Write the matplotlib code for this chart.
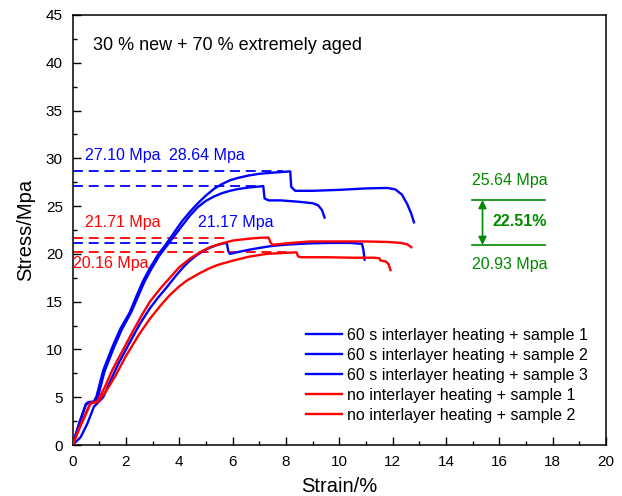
import matplotlib
matplotlib.use("Agg")
import matplotlib.pyplot as plt
from matplotlib.ticker import MultipleLocator

plt.rcParams['font.family'] = ['Liberation Sans', 'DejaVu Sans']

# ---------------- data ----------------
b1_strain = [0, 0.25, 0.5, 0.6, 0.8, 0.9, 1.15, 1.5, 1.8, 2.15, 2.4, 2.65, 2.9, 3.2, 3.5, 3.8, 4.1,
             4.4, 4.7, 5.0, 5.3, 5.6, 5.9, 6.2, 6.6, 7.0, 7.5, 8.0, 8.16, 8.2, 8.35, 9.0, 10.0, 11.0,
             11.8, 12.1, 12.35, 12.55, 12.7, 12.8]
b1_stress = [0, 2.3, 4.3, 4.5, 4.55, 5.1, 7.8, 10.3, 12.2, 13.9, 15.6, 17.2, 18.5, 19.9, 21.0, 22.2, 23.4,
             24.4, 25.3, 26.1, 26.8, 27.3, 27.7, 27.95, 28.2, 28.38, 28.5, 28.6, 28.64, 27.0, 26.6, 26.6,
             26.7, 26.85, 26.9, 26.75, 26.2, 25.2, 24.2, 23.3]

b2_strain = [0, 0.25, 0.5, 0.62, 0.82, 0.95, 1.2, 1.55, 1.85, 2.2, 2.45, 2.7, 2.95, 3.25, 3.55, 3.85, 4.15,
             4.4, 4.7, 5.0, 5.3, 5.6, 5.9, 6.2, 6.6, 7.0, 7.15, 7.2, 7.35, 7.8, 8.5, 9.0, 9.2, 9.35, 9.45]
b2_stress = [0, 2.2, 4.2, 4.45, 4.5, 5.0, 7.7, 10.2, 12.1, 13.9, 15.5, 17.1, 18.4, 19.8, 20.9, 22.0, 23.1,
             24.0, 24.9, 25.55, 26.0, 26.35, 26.6, 26.78, 26.95, 27.05, 27.1, 25.8, 25.6, 25.6, 25.45,
             25.3, 25.1, 24.6, 23.8]

b3_strain = [0, 0.3, 0.55, 0.8, 1.15, 1.4, 1.7, 2.1, 2.53, 2.9, 3.2, 3.53, 3.9, 4.15, 4.4, 4.65, 4.9,
             5.15, 5.45, 5.78, 5.84, 5.9, 6.3, 6.65, 7.0, 7.4, 7.8, 8.2, 8.9, 9.7, 10.4, 10.85, 10.9, 10.95]
b3_stress = [0, 0.8, 2.2, 4.0, 5.0, 6.6, 8.4, 10.5, 12.7, 14.3, 15.4, 16.5, 17.8, 18.6, 19.3, 19.85, 20.3,
             20.65, 20.95, 21.17, 20.3, 20.0, 20.25, 20.45, 20.62, 20.8, 20.92, 21.0, 21.1, 21.15, 21.15,
             21.05, 20.5, 19.4]

r1_strain = [0, 0.3, 0.67, 0.8, 0.92, 1.2, 1.5, 1.9, 2.28, 2.6, 2.9, 3.3, 3.65, 4.0, 4.4, 4.8, 5.15,
             5.6, 6.02, 6.65, 7.0, 7.35, 7.42, 7.5, 8.2, 8.9, 10.0, 11.0, 11.8, 12.3, 12.55, 12.7]
r1_stress = [0, 2.1, 4.4, 4.5, 4.5, 6.0, 7.9, 10.0, 12.0, 13.6, 15.0, 16.4, 17.5, 18.6, 19.5, 20.2, 20.7,
             21.1, 21.4, 21.6, 21.68, 21.71, 21.2, 20.95, 21.15, 21.3, 21.3, 21.3, 21.25, 21.15, 21.0, 20.7]

r2_strain = [0, 0.3, 0.67, 0.8, 0.95, 1.25, 1.6, 2.0, 2.5, 2.9, 3.3, 3.65, 4.0, 4.28, 4.78, 5.1, 5.4,
             5.7, 6.02, 6.6, 7.27, 7.9, 8.4, 8.45, 8.55, 9.5, 10.5, 11.3, 11.5, 11.55, 11.75, 11.85, 11.92]
r2_stress = [0, 2.0, 4.3, 4.45, 4.5, 5.6, 7.2, 9.3, 11.6, 13.2, 14.6, 15.7, 16.6, 17.2, 18.0, 18.45, 18.8,
             19.05, 19.3, 19.7, 20.0, 20.1, 20.16, 19.75, 19.65, 19.65, 19.6, 19.6, 19.55, 19.3, 19.2,
             18.9, 18.3]

series_labels = ["60 s interlayer heating + sample 1",
                 "60 s interlayer heating + sample 2",
                 "60 s interlayer heating + sample 3",
                 "no interlayer heating + sample 1",
                 "no interlayer heating + sample 2"]

peak_values = [28.64, 27.10, 21.17, 21.71, 20.16]
peak_strains = [7.9, 7.0, 5.3, 5.8, 8.0]
peak_colors = ['blue', 'blue', 'blue', 'red', 'red']

avg_high = 25.64
avg_low = 20.93
improvement = "22.51%"

x_ticks = list(range(0, 21, 2))
y_ticks = list(range(0, 46, 5))

# ---------------- figure ----------------
fig = plt.figure(figsize=(6.22, 4.96), dpi=100)
ax = fig.add_axes([0.1166, 0.1028, 0.8577, 0.867])

BLUE = '#0000ff'
RED = '#ff0000'
GREEN = '#008a00'

# dashed reference lines
for v, s, c in zip(peak_values, peak_strains, peak_colors):
    ax.plot([0, s], [v, v], color=BLUE if c == 'blue' else RED, lw=1.3,
            linestyle=(0, (5.5, 3.2)), zorder=2)

lw = 1.7
ax.plot(b1_strain, b1_stress, color=BLUE, lw=lw, label=series_labels[0], zorder=3)
ax.plot(b2_strain, b2_stress, color=BLUE, lw=lw, label=series_labels[1], zorder=3)
ax.plot(b3_strain, b3_stress, color=BLUE, lw=lw, label=series_labels[2], zorder=3)
ax.plot(r1_strain, r1_stress, color=RED, lw=lw, label=series_labels[3], zorder=3)
ax.plot(r2_strain, r2_stress, color=RED, lw=lw, label=series_labels[4], zorder=3)

fs = 11.5
ax.text(0.47, 30.3, "27.10 Mpa", color=BLUE, fontsize=fs, va='center', ha='left')
ax.text(3.61, 30.3, "28.64 Mpa", color=BLUE, fontsize=fs, va='center', ha='left')
ax.text(0.47, 23.3, "21.71 Mpa", color=RED, fontsize=fs, va='center', ha='left')
ax.text(4.71, 23.3, "21.17 Mpa", color=BLUE, fontsize=fs, va='center', ha='left')
ax.text(0.03, 19.0, "20.16 Mpa", color=RED, fontsize=fs, va='center', ha='left')

ax.text(0.76, 41.8, "30 % new + 70 % extremely aged", color='black', fontsize=13,
        va='center', ha='left')

# green annotation
ax.plot([14.96, 17.73], [avg_high, avg_high], color=GREEN, lw=1.2)
ax.plot([14.96, 17.73], [avg_low, avg_low], color=GREEN, lw=1.2)
ax.annotate('', xy=(15.37, avg_low), xytext=(15.37, avg_high),
            arrowprops=dict(arrowstyle='<|-|>', color=GREEN, lw=1.2,
                            mutation_scale=12, shrinkA=0, shrinkB=0))
ax.text(16.39, 27.65, f"{avg_high:.2f} Mpa", color=GREEN, fontsize=fs, ha='center', va='center')
ax.text(16.39, 18.85, f"{avg_low:.2f} Mpa", color=GREEN, fontsize=fs, ha='center', va='center')
ax.text(15.75, 23.4, improvement, color=GREEN, fontsize=fs, fontweight='bold',
        ha='left', va='center')

ax.set_xlim(0, 20)
ax.set_ylim(0, 45)
ax.set_xticks(x_ticks)
ax.set_yticks(y_ticks)
ax.xaxis.set_minor_locator(MultipleLocator(1))
ax.yaxis.set_minor_locator(MultipleLocator(2.5))
ax.tick_params(which='both', direction='in', top=False, right=False, labelsize=11, pad=7)
ax.tick_params(which='major', length=6, width=1.0)
ax.tick_params(which='minor', length=3, width=1.0)
for sp in ax.spines.values():
    sp.set_linewidth(1.1)

ax.set_xlabel("Strain/%", fontsize=14.5, labelpad=6)
ax.set_ylabel("Stress/Mpa", fontsize=14.5, labelpad=8)

leg = ax.legend(loc='upper left', bbox_to_anchor=(0.438, 0.272), frameon=False,
                fontsize=fs, handlelength=2.25, handletextpad=0.3, labelspacing=0.31,
                borderpad=0, borderaxespad=0)

fig.savefig("out.png", dpi=100)
